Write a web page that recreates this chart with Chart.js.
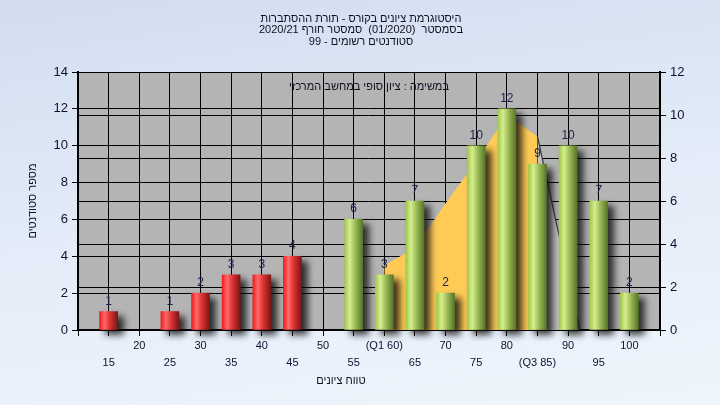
<!DOCTYPE html>
<html><head><meta charset="utf-8">
<script src="https://cdn.jsdelivr.net/npm/chart.js@4.4.1/dist/chart.umd.min.js"></script>
<style>
html,body{margin:0;padding:0;}
#wrap{width:720px;height:405px;background:linear-gradient(172deg,#d1ddef 0%,#e3ecf8 50%,#eef5fc 100%);}
canvas{display:block;}
</style></head><body><div id="wrap"><canvas id="c" width="720" height="405"></canvas></div>
<script>
const scores = [15,20,25,30,35,40,45,50,55,60,65,70,75,80,85,90,95,100];
const counts = [1,0,1,2,3,3,4,0,6,3,7,2,10,12,9,10,7,2];
const passMark = 55;
const iqrX = [60,65,70,75,80,85];
const iqrY = [3.0,3.83,5.9,7.85,10.0,9.0];
const tailX = [85,91.9];
const tailY = [9.0,0];
const quartileLabels = {60:'(Q1 60)',85:'(Q3 85)'};
const leftTicks = [0,2,4,6,8,10,12,14];
const rightTicks = [0,2,4,6,8,10,12];
const titleLines = ['היסטוגרמת ציונים בקורס - תורת ההסתברות','בסמסטר  (01/2020)  סמסטר חורף 2020/21','סטודנטים רשומים - 99'];
const subtitle = 'במשימה : ציון סופי במחשב המרכזי';
const yTitle = 'מספר סטודנטים';
const xTitle = 'טווח ציונים';

const FONT = 'Arial, "Liberation Sans", sans-serif';

function barFill(ctx){
  const chart = ctx.chart, xs = chart.scales && chart.scales.x;
  const i = ctx.dataIndex;
  if (ctx.type === 'data' && !counts[i]) return 'rgba(0,0,0,0)';
  const red = scores[i] < passMark;
  const solid = red ? '#d02020' : '#90b040';
  if (!xs || ctx.type !== 'data') return solid;
  const px = xs.getPixelForValue(scores[i]);
  if (!isFinite(px)) return solid;
  const g = chart.ctx.createLinearGradient(px-9,0,px+9,0);
  if (red){
    g.addColorStop(0,'#f01c1c'); g.addColorStop(0.28,'#ff6a6a'); g.addColorStop(0.55,'#e03434'); g.addColorStop(1,'#7a1616');
  } else {
    g.addColorStop(0,'#a0c848'); g.addColorStop(0.28,'#d6ee90'); g.addColorStop(0.6,'#98b852'); g.addColorStop(1,'#56752a');
  }
  return g;
}

const bgPlugin = {
  id:'bg',
  beforeDraw(chart){
    const {ctx, chartArea:a} = chart;
    ctx.save(); ctx.fillStyle='#b4b4b4'; ctx.fillRect(a.left,a.top,a.right-a.left,a.bottom-a.top); ctx.restore();
  },
  beforeDatasetDraw(chart,args){
    if (args.meta.type==='bar'){
      const ctx=chart.ctx; ctx.save();
      ctx.shadowColor='rgba(10,10,10,0.8)'; ctx.shadowBlur=7; ctx.shadowOffsetX=6; ctx.shadowOffsetY=5;
    }
  },
  afterDatasetDraw(chart,args){
    if (args.meta.type==='bar') chart.ctx.restore();
  },
  afterDatasetsDraw(chart){
    const ctx=chart.ctx;
    const meta = chart.getDatasetMeta(0);
    ctx.save();
    ctx.font='12px '+FONT; ctx.fillStyle='#1a2050'; ctx.textAlign='center'; ctx.textBaseline='alphabetic';
    meta.data.forEach((el,i)=>{ if(counts[i]>0) ctx.fillText(String(counts[i]), el.x, el.y-7); });
    ctx.fillStyle='#101020'; ctx.font='11px '+FONT; ctx.textBaseline='middle';
    ctx.fillText(subtitle, (chart.chartArea.left+chart.chartArea.right)/2, 87);
    ctx.fillStyle='#101020'; ctx.font='11px '+FONT;
    titleLines.forEach((t,k)=>ctx.fillText(t, 361, 19+k*11.3));
    ctx.font='11px '+FONT;
    ctx.fillText(xTitle, 341, 381);
    ctx.translate(33,201); ctx.rotate(-Math.PI/2); ctx.fillText(yTitle,0,0);
    ctx.restore();
  }
};

new Chart(document.getElementById('c'), {
  data:{
    datasets:[
      {type:'bar', order:0, xAxisID:'x', yAxisID:'y', clip:{left:0,top:0,right:12,bottom:12},
       data: scores.map((s,i)=>({x:s,y:counts[i]})),
       backgroundColor: barFill, borderWidth:0, barThickness:18},
      {type:'line', order:1, xAxisID:'x', yAxisID:'y2',
       data: tailX.map((x,i)=>({x:x,y:tailY[i]})),
       borderColor:'#3c3c3c', borderWidth:1.2, backgroundColor:'#c4c4c4', fill:'origin', pointRadius:0, tension:0},
      {type:'line', order:2, xAxisID:'x', yAxisID:'y2',
       data: iqrX.map((x,i)=>({x:x,y:iqrY[i]})),
       borderWidth:0, borderColor:'rgba(0,0,0,0)', backgroundColor:'#ffcb55', fill:'origin', pointRadius:0, tension:0}
    ]
  },
  options:{
    responsive:false, animation:false, devicePixelRatio:1,
    layout:{padding:{top:72,left:0,right:0,bottom:0}},
    plugins:{legend:{display:false}, tooltip:{enabled:false}, title:{display:false}},
    scales:{
      x:{type:'linear', position:'bottom', min:10, max:105, offset:false,
        afterFit(s){ s.height=75; },
        afterBuildTicks(s){ s.ticks = scores.concat([10,105]).sort((a,b)=>a-b).map(v=>({value:v})); },
        ticks:{autoSkip:false, maxRotation:0, minRotation:0, padding:1, color:'#101030',
          font:{family:FONT,size:11, lineHeight:17/11},
          callback(v){ if(v===10||v===105) return ''; const t = quartileLabels[v] || String(v); return (v/5)%2===1 ? ['',t] : [t]; }},
        grid:{color:'#000', lineWidth:1, tickLength:6, drawTicks:true, offset:false},
        border:{color:'#000', width:2}
      },
      y:{type:'linear', position:'left', min:0, max:14,
        afterFit(s){ s.width=78; },
        afterBuildTicks(s){ s.ticks = leftTicks.map(v=>({value:v})); },
        ticks:{padding:4, color:'#101030', font:{family:FONT,size:13}},
        grid:{color:'#000', lineWidth:1, tickLength:6},
        border:{color:'#000', width:2}
      },
      y2:{type:'linear', position:'right', min:0, max:12,
        afterFit(s){ s.width=60; },
        afterBuildTicks(s){ s.ticks = rightTicks.map(v=>({value:v})); },
        ticks:{padding:4, color:'#101030', font:{family:FONT,size:13}},
        grid:{color:'#000', lineWidth:1, tickLength:6, drawOnChartArea:true},
        border:{color:'#000', width:2}
      }
    }
  },
  plugins:[bgPlugin]
});
</script></body></html>
